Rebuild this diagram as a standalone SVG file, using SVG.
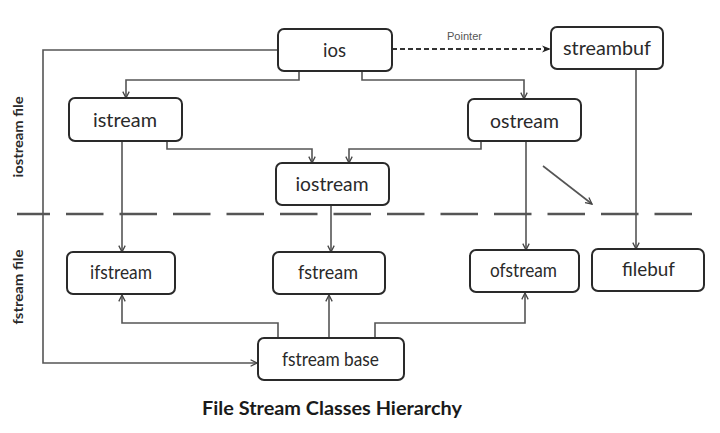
<svg xmlns="http://www.w3.org/2000/svg" width="720" height="433" viewBox="0 0 720 433">
<style>
.box{fill:#fff;stroke:#2a2a2a;stroke-width:2}
.lbl{font-family:Lato,"Open Sans","Liberation Sans",sans-serif;font-size:19px;fill:#2a2a2a;text-anchor:middle}
.side{font-family:Lato,"Open Sans","Liberation Sans",sans-serif;font-size:14px;font-weight:bold;fill:#2a2a2a;text-anchor:middle}
.con{fill:none;stroke:#555;stroke-width:1.6}
</style>
<defs>
<marker id="arr" viewBox="0 0 10 10" refX="9" refY="5" markerWidth="8" markerHeight="8" markerUnits="userSpaceOnUse" orient="auto">
<path d="M1,1 L9,5 L1,9" fill="none" stroke="#444" stroke-width="1.6"/>
</marker>
<marker id="arrf" viewBox="0 0 10 10" refX="9" refY="5" markerWidth="9" markerHeight="9" markerUnits="userSpaceOnUse" orient="auto">
<path d="M0,1 L10,5 L0,9 L3,5 Z" fill="#222"/>
</marker>
</defs>
<rect width="720" height="433" fill="#fff"/>
<g id="separator">
<line x1="17" y1="214" x2="692" y2="214" stroke="#555" stroke-width="2.5" stroke-dasharray="37.5 16" stroke-dashoffset="4.5"/>
</g>
<text class="side" transform="translate(23,137) rotate(-90)" textLength="81" lengthAdjust="spacingAndGlyphs">iostream file</text>
<text class="side" transform="translate(23,287) rotate(-90)" textLength="75" lengthAdjust="spacingAndGlyphs">fstream file</text>
<g id="connectors">
<path class="con" d="M278,50 H43 V363 H257" marker-end="url(#arr)"/>
<path class="con" d="M299,71 V80 H126 V98" marker-end="url(#arr)"/>
<path class="con" d="M362,71 V80 H524 V99" marker-end="url(#arr)"/>
<path class="con" d="M167,141 V149 H312 V163" marker-end="url(#arr)"/>
<path class="con" d="M481,141 V149 H349 V163" marker-end="url(#arr)"/>
<path class="con" d="M122,141 V252" marker-end="url(#arr)"/>
<path class="con" d="M331,205 V252" marker-end="url(#arr)"/>
<path class="con" d="M526,141 V250" marker-end="url(#arr)"/>
<path class="con" d="M636,69 V249" marker-end="url(#arr)"/>
<path class="con" d="M543,166 L592,204" marker-end="url(#arr)"/>
<path class="con" d="M278,338 V323 H122 V295" marker-end="url(#arr)"/>
<path class="con" d="M329,338 V295" marker-end="url(#arr)"/>
<path class="con" d="M375,338 V323 H525 V293" marker-end="url(#arr)"/>
<path d="M392,49 H550" fill="none" stroke="#333" stroke-width="2" stroke-dasharray="5 3" marker-end="url(#arrf)"/>
<text x="464.5" y="40" font-family="'Liberation Sans Narrow','Liberation Sans',Arial,sans-serif" font-size="10.5" fill="#555" text-anchor="middle" textLength="35" lengthAdjust="spacingAndGlyphs">Pointer</text>
</g>
<g id="ios"><rect class="box" x="278" y="29" width="114" height="42" rx="6"/><text class="lbl" x="334.5" y="57" textLength="23" lengthAdjust="spacingAndGlyphs">ios</text></g>
<g id="streambuf"><rect class="box" x="551" y="27" width="112" height="42" rx="6"/><text class="lbl" x="607" y="55" textLength="88" lengthAdjust="spacingAndGlyphs">streambuf</text></g>
<g id="istream"><rect class="box" x="69" y="98" width="113" height="43" rx="6"/><text class="lbl" x="125" y="127" textLength="64" lengthAdjust="spacingAndGlyphs">istream</text></g>
<g id="ostream"><rect class="box" x="468" y="99" width="113" height="42" rx="6"/><text class="lbl" x="524.5" y="128" textLength="69" lengthAdjust="spacingAndGlyphs">ostream</text></g>
<g id="iostream"><rect class="box" x="276" y="163" width="113" height="42" rx="6"/><text class="lbl" x="332" y="191" textLength="73" lengthAdjust="spacingAndGlyphs">iostream</text></g>
<g id="ifstream"><rect class="box" x="67" y="252" width="108" height="42" rx="6"/><text class="lbl" x="121" y="279" textLength="62" lengthAdjust="spacingAndGlyphs">ifstream</text></g>
<g id="fstream"><rect class="box" x="273" y="252" width="112" height="42" rx="6"/><text class="lbl" x="328" y="279" textLength="60" lengthAdjust="spacingAndGlyphs">fstream</text></g>
<g id="ofstream"><rect class="box" x="470" y="250" width="109" height="42" rx="6"/><text class="lbl" x="523.5" y="277" textLength="67" lengthAdjust="spacingAndGlyphs">ofstream</text></g>
<g id="filebuf"><rect class="box" x="592" y="249" width="112" height="42" rx="6"/><text class="lbl" x="648.5" y="276" textLength="53" lengthAdjust="spacingAndGlyphs">filebuf</text></g>
<g id="fstream_base"><rect class="box" x="258" y="338" width="146" height="42" rx="6"/><text class="lbl" x="330.5" y="366" textLength="97" lengthAdjust="spacingAndGlyphs">fstream base</text></g>
<text x="332" y="415" font-family="Lato,'Open Sans','Liberation Sans',sans-serif" font-size="19" font-weight="bold" fill="#1a1a1a" text-anchor="middle" textLength="260" lengthAdjust="spacingAndGlyphs">File Stream Classes Hierarchy</text>
</svg>
